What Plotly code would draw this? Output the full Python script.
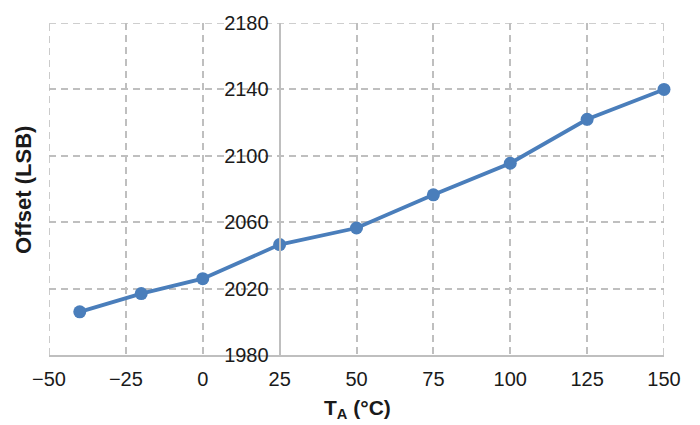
import plotly.graph_objects as go

temps = [-40, -20, 0, 25, 50, 75, 100, 125, 150]
offset = [2006, 2017, 2026, 2046.5, 2056.5, 2076.5, 2095.5, 2122, 2140]
x_ticks = [-50, -25, 0, 25, 50, 75, 100, 125, 150]
y_ticks = [1980, 2020, 2060, 2100, 2140, 2180]

LINE = "#4a7ebb"
GRID = "#bfbfbf"
FONT = "Liberation Sans, Arial, sans-serif"
DASH = "7px,5px"

fig = go.Figure()
fig.add_trace(go.Scatter(
    x=temps, y=offset, mode="lines+markers",
    line=dict(color=LINE, width=3.8),
    marker=dict(color=LINE, size=13),
    showlegend=False, cliponaxis=False,
))

# edge grid lines (Plotly omits gridlines at range ends)
shapes = []
for xv in (x_ticks[0], x_ticks[-1]):
    shapes.append(dict(type="line", xref="x", yref="y", x0=xv, x1=xv,
                       y0=y_ticks[0], y1=y_ticks[-1], layer="below",
                       line=dict(color=GRID, width=1.6, dash=DASH)))
shapes.append(dict(type="line", xref="x", yref="y", x0=x_ticks[0], x1=x_ticks[-1],
                   y0=y_ticks[-1], y1=y_ticks[-1], layer="below",
                   line=dict(color=GRID, width=1.6, dash=DASH)))

fig.update_layout(
    width=700, height=425,
    margin=dict(l=49, r=36, t=19, b=70),
    paper_bgcolor="white", plot_bgcolor="white",
    font=dict(family=FONT, size=20, color="#1a1a1a"),
    shapes=shapes,
    xaxis=dict(
        range=[x_ticks[0], x_ticks[-1]], tickvals=x_ticks,
        showgrid=True, gridcolor=GRID, griddash=DASH, gridwidth=1.6,
        showline=True, linecolor=GRID, linewidth=2,
        zeroline=False, ticks="", ticklabelstandoff=5,
    ),
    yaxis=dict(
        range=[y_ticks[0], y_ticks[-1]], tickvals=y_ticks,
        anchor="free", position=(25 - x_ticks[0]) / (x_ticks[-1] - x_ticks[0]),
        showgrid=True, gridcolor=GRID, griddash=DASH, gridwidth=1.6,
        showline=True, linecolor=GRID, linewidth=2,
        zeroline=False, ticks="", ticklabelstandoff=6,
    ),
    annotations=[
        dict(text="<b>Offset (LSB)</b>", xref="paper", yref="paper",
             x=-0.0407, y=0.497, xanchor="center", yanchor="middle",
             textangle=-90, showarrow=False, font=dict(size=22)),
        dict(text="<b>T<sub>A</sub> (°C)</b>", xref="paper", yref="paper",
             x=0.501, y=-0.164, xanchor="center", yanchor="middle",
             showarrow=False, font=dict(size=21)),
    ],
)

fig.write_html("out.html", config={"displayModeBar": False},
               post_script="document.body.style.margin='0';")
